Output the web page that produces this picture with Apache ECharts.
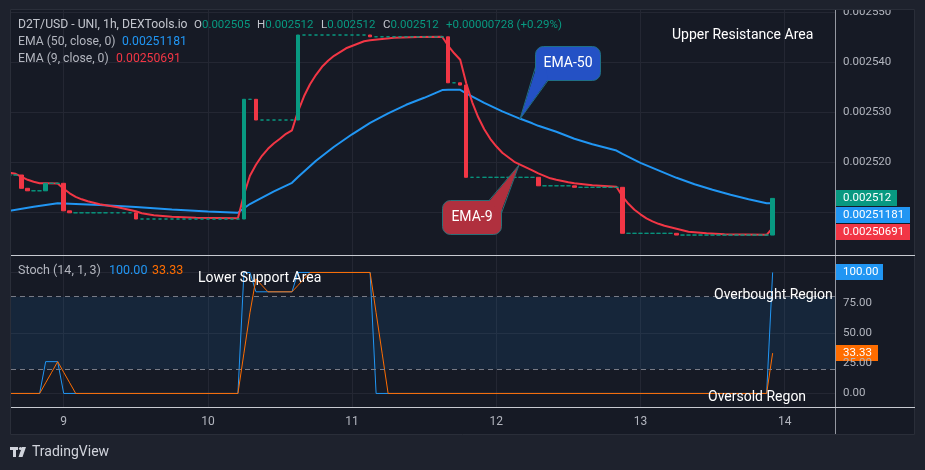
<!DOCTYPE html>
<html>
<head>
<meta charset="utf-8">
<script src="https://cdn.jsdelivr.net/npm/echarts@6/dist/echarts.min.js"></script>
<style>
  html, body { margin: 0; padding: 0; background: #1e222d; }
  #chart { width: 925px; height: 470px; }
</style>
</head>
<body>
<div id="chart"></div>
<script>
// hourly bars, hour 0 = day 9 00:00
const firstHour = -9;
const closes = [
  // day 8, 15:00 - 23:00
  0.00251746, 0.00251746, 0.0025148, 0.0025143, 0.0025143, 0.0025143, 0.0025158, 0.0025158, 0.0025158,
  // day 9
  0.0025103, 0.0025099, 0.0025099, 0.0025099, 0.0025099, 0.0025099, 0.0025099, 0.0025099, 0.0025099, 0.0025099, 0.0025099, 0.0025099,
  0.00250866, 0.00250866, 0.00250866, 0.00250866, 0.00250866, 0.00250866, 0.00250866, 0.00250866, 0.00250866, 0.00250866, 0.00250866, 0.00250866,
  // day 10
  0.00250866, 0.00250866, 0.00250866, 0.00250866, 0.00250866, 0.00250866, 0.0025326, 0.0025326, 0.00252846, 0.00252846, 0.00252846, 0.00252846,
  0.00252846, 0.00252846, 0.00252846, 0.00254546, 0.00254546, 0.00254546, 0.00254546, 0.00254546, 0.00254546, 0.00254546, 0.00254546, 0.00254546,
  // day 11
  0.00254546, 0.00254546, 0.00254546, 0.0025451, 0.0025451, 0.0025451, 0.0025451, 0.0025451, 0.0025451, 0.0025451, 0.0025451, 0.0025451,
  0.0025451, 0.0025451, 0.0025451, 0.0025451, 0.0025359, 0.0025359, 0.00253545, 0.002517, 0.002517, 0.002517, 0.002517, 0.002517,
  // day 12
  0.002517, 0.002517, 0.002517, 0.002517, 0.002517, 0.002517, 0.002517, 0.0025153, 0.0025153, 0.0025153, 0.0025153, 0.0025153,
  0.0025153, 0.002515, 0.002515, 0.002515, 0.002515, 0.002515, 0.002515, 0.002515, 0.002515, 0.0025058, 0.0025058, 0.0025058,
  // day 13
  0.0025058, 0.0025058, 0.0025058, 0.0025058, 0.0025058, 0.0025058, 0.00250545, 0.00250545, 0.00250545, 0.00250545, 0.00250545, 0.00250545,
  0.00250545, 0.00250545, 0.00250545, 0.00250545, 0.00250545, 0.00250545, 0.00250545, 0.00250545, 0.00250545, 0.00250545, 0.00251278
];
const ema50 = [
  [-9, 0.0025103], [-5, 0.0025111], [-1, 0.0025118], [0, 0.00251175], [6, 0.00251145], [12, 0.00251105],
  [18, 0.00251055], [24, 0.00251015], [29, 0.0025099], [30, 0.0025108], [31, 0.00251165], [32, 0.0025123],
  [35, 0.0025142], [38, 0.0025159], [39, 0.00251706], [42, 0.0025203], [45, 0.0025231], [48, 0.0025256],
  [51, 0.0025279], [54, 0.0025298], [57, 0.0025315], [60, 0.0025329], [63, 0.00253445], [64, 0.0025345],
  [66, 0.0025345], [67, 0.0025338], [70, 0.0025319], [73, 0.0025302], [76, 0.0025287], [78, 0.0025278],
  [79, 0.0025273], [82, 0.0025261], [85, 0.0025247], [88, 0.0025236], [92, 0.00252235], [93, 0.0025217],
  [96, 0.0025199], [99, 0.0025184], [102, 0.0025169], [105, 0.0025156], [108, 0.0025145], [111, 0.0025135],
  [114, 0.0025126], [117, 0.0025118], [118, 0.00251182]
];
const ema9 = [
  [-9, 0.0025179], [-8, 0.0025177], [-7, 0.0025171], [-6, 0.0025165], [-5, 0.0025161], [-4, 0.0025158],
  [-3, 0.0025158], [-1, 0.00251575], [0, 0.0025147], [1, 0.0025138], [2, 0.0025131], [3, 0.0025126],
  [4, 0.0025122], [6, 0.0025116], [9, 0.002511], [12, 0.0025102], [13, 0.0025098], [15, 0.0025094],
  [18, 0.0025091], [22, 0.0025089], [29, 0.0025088], [30, 0.0025135], [31, 0.0025173], [32, 0.0025195],
  [33, 0.0025213], [34, 0.0025227], [35, 0.0025238], [36, 0.0025247], [37, 0.0025257], [38, 0.0025264],
  [39, 0.0025302], [40, 0.0025332], [41, 0.0025356], [42, 0.0025375], [43, 0.0025391], [44, 0.0025403],
  [45, 0.0025413], [47, 0.0025428], [50, 0.0025442], [51, 0.0025444], [55, 0.0025449], [59, 0.00254505],
  [63, 0.0025451], [64, 0.0025433], [65, 0.0025418], [66, 0.0025405], [67, 0.0025358], [68, 0.002532],
  [69, 0.002529], [70, 0.0025266], [71, 0.0025247], [72, 0.0025232], [73, 0.0025219], [75, 0.0025201],
  [78, 0.0025184], [79, 0.0025178], [80, 0.0025173], [81, 0.0025168], [82, 0.0025165], [84, 0.002516],
  [85, 0.0025158], [88, 0.0025154], [92, 0.0025151], [93, 0.0025132], [94, 0.0025117], [95, 0.0025105],
  [96, 0.0025096], [97, 0.0025088], [98, 0.0025082], [99, 0.0025077], [100, 0.0025073], [102, 0.0025067],
  [104, 0.0025061], [107, 0.0025058], [110, 0.0025056], [117, 0.0025055], [118, 0.0025069]
];
const stochK = [
  [-9, 0], [-4, 0], [-3, 26.3], [-1, 26.3], [0, 0], [29, 0], [30, 100], [31, 100], [32, 84],
  [38, 84], [39, 100], [51, 100], [52, 0], [117, 0], [118, 100]
];
const stochD = [
  [-9, 0], [-4, 0], [-3, 8.8], [-2, 17.5], [-1, 26.3], [0, 17.5], [1, 8.8], [2, 0], [29, 0],
  [30, 33.3], [31, 66.7], [32, 94.7], [33, 89.3], [34, 84], [38, 84], [39, 89.3], [40, 94.7],
  [41, 100], [51, 100], [52, 66.7], [53, 33.3], [54, 0], [117, 0], [118, 33.33]
];
const dayTicks = [0, 24, 48, 72, 96, 120];
const dayLabels = ['9', '10', '11', '12', '13', '14'];
const priceLabels = [0.00252, 0.00253, 0.00254, 0.00255];
const priceGrid = [0.00251, 0.00252, 0.00253, 0.00254, 0.00255];
const stochLabels = [0, 25, 50, 75];
const stochGrid = [0, 50, 100];

const FONT = 'Roboto, "Noto Sans", sans-serif';
const GRID_LINE = '#242733';
const AXIS_TEXT = '#b2b5be';
const GREEN = '#089981';
const RED = '#f23645';
const BLUE = '#2196f3';
const ORANGE = '#ff6d00';
const LEGEND_SIZE = 12.2;
const OHLC_SIZE = 11.5;

const chart = echarts.init(document.getElementById('chart'));

const candles = closes.map((c, i) => {
  const o = i > 0 ? closes[i - 1] : c;
  return [firstHour + i, o, c, Math.min(o, c), Math.max(o, c)];
});
const lastClose = closes[closes.length - 1];

const xBase = {
  type: 'value', min: -8.77, max: 128.38,
  axisLine: { show: false },
  axisTick: { show: false, customValues: dayTicks },
  splitLine: { show: true, lineStyle: { color: GRID_LINE } }
};

function txt(x, y, text, fill, size, extra) {
  return Object.assign({
    type: 'text', x: x, y: y, z: 120,
    style: { text: text, fill: fill, fontSize: size, fontFamily: FONT, verticalAlign: 'middle' }
  }, extra || {});
}
function rich(x, y, parts, size) {
  // parts: [[text, colour], ...]
  const r = {};
  let s = '';
  parts.forEach((p, i) => {
    r['p' + i] = { fill: p[1], color: p[1], fontSize: size, fontFamily: FONT };
    s += '{p' + i + '|' + p[0] + '}';
  });
  return { type: 'text', x: x, y: y, z: 120, style: { text: s, rich: r, fontSize: size, fontFamily: FONT, verticalAlign: 'middle' } };
}
function tag(y, w, text, bg) {
  return {
    type: 'group', x: 835, y: Math.round(y) - 8, z: 130,
    children: [
      { type: 'rect', shape: { x: 0, y: 0, width: w, height: 16 }, style: { fill: bg } },
      { type: 'text', x: 8, y: 8.5, style: { text: text, fill: '#ffffff', fontSize: 11.5, fontFamily: FONT, verticalAlign: 'middle' } }
    ]
  };
}

const option = {
  backgroundColor: '#161a25',
  animation: false,
  grid: [
    { left: 11, right: 90, top: 10, height: 245 },
    { left: 11, right: 90, top: 256, height: 151 }
  ],
  xAxis: [
    Object.assign({}, xBase, { gridIndex: 0, axisLabel: { show: false } }),
    Object.assign({}, xBase, {
      gridIndex: 1,
      axisLabel: {
        show: true, customValues: dayTicks, margin: 9,
        formatter: v => dayLabels[dayTicks.indexOf(v)],
        color: AXIS_TEXT, fontSize: 12, fontFamily: FONT
      }
    })
  ],
  yAxis: [
    {
      type: 'value', gridIndex: 0, position: 'right', min: 0.00250146, max: 0.00255046,
      axisLine: { show: false },
      axisTick: { show: false, customValues: priceGrid },
      splitLine: { show: true, lineStyle: { color: GRID_LINE } },
      axisLabel: {
        customValues: priceLabels, margin: 8, formatter: v => v.toFixed(6),
        color: AXIS_TEXT, fontSize: 11.5, fontFamily: FONT
      }
    },
    {
      type: 'value', gridIndex: 1, position: 'right', min: -11.2, max: 113.6,
      axisLine: { show: false },
      axisTick: { show: false, customValues: stochGrid },
      splitLine: { show: true, lineStyle: { color: GRID_LINE } },
      axisLabel: {
        customValues: stochLabels, margin: 8, formatter: v => v.toFixed(2),
        color: AXIS_TEXT, fontSize: 11.5, fontFamily: FONT
      }
    }
  ],
  series: [
    {
      type: 'line', name: 'EMA50', xAxisIndex: 0, yAxisIndex: 0, data: ema50, silent: true,
      showSymbol: false, z: 2, lineStyle: { color: BLUE, width: 2 }
    },
    {
      type: 'line', name: 'EMA9', xAxisIndex: 0, yAxisIndex: 0, data: ema9, silent: true,
      showSymbol: false, z: 2, lineStyle: { color: RED, width: 2 }
    },
    {
      type: 'candlestick', xAxisIndex: 0, yAxisIndex: 0, data: candles, silent: true,
      encode: { x: 0, y: [1, 2, 3, 4] }, barWidth: 4, z: 3,
      itemStyle: { color: GREEN, color0: RED, borderColor: GREEN, borderColor0: RED, borderWidth: 1 },
      markLine: {
        silent: true, symbol: 'none', label: { show: false },
        lineStyle: { color: GREEN, type: 'dotted', width: 1 },
        data: [{ yAxis: lastClose }]
      }
    },
    {
      type: 'line', name: '%K', xAxisIndex: 1, yAxisIndex: 1, data: stochK, silent: true,
      showSymbol: false, z: 2, lineStyle: { color: BLUE, width: 1 },
      markArea: {
        silent: true, itemStyle: { color: 'rgba(33,150,243,0.1)' },
        data: [[{ yAxis: 20 }, { yAxis: 80 }]]
      },
      markLine: {
        silent: true, symbol: 'none', label: { show: false },
        lineStyle: { color: '#787b86', type: [5, 4], width: 1 },
        data: [{ yAxis: 80 }, { yAxis: 20 }]
      }
    },
    {
      type: 'line', name: '%D', xAxisIndex: 1, yAxisIndex: 1, data: stochD, silent: true,
      showSymbol: false, z: 3, lineStyle: { color: ORANGE, width: 1 }
    }
  ]
};
chart.setOption(option);

// price tags on the right scale, stacked like the original
const yClose = chart.convertToPixel({ yAxisIndex: 0 }, lastClose);
const yK = chart.convertToPixel({ yAxisIndex: 1 }, stochK[stochK.length - 1][1]);
const yD = chart.convertToPixel({ yAxisIndex: 1 }, stochD[stochD.length - 1][1]);

const frame = '#1e222d';
const graphic = [
  // outer frame
  { type: 'rect', z: 100, shape: { x: 0, y: 0, width: 925, height: 9 }, style: { fill: frame } },
  { type: 'rect', z: 100, shape: { x: 0, y: 0, width: 10, height: 470 }, style: { fill: frame } },
  { type: 'rect', z: 100, shape: { x: 915, y: 0, width: 10, height: 470 }, style: { fill: frame } },
  { type: 'rect', z: 100, shape: { x: 0, y: 435, width: 925, height: 35 }, style: { fill: frame } },
  { type: 'rect', z: 101, shape: { x: 10.5, y: 9.5, width: 904, height: 425 }, style: { fill: null, stroke: '#2a2e39', lineWidth: 1 } },
  // pane separators
  { type: 'line', z: 110, shape: { x1: 835.5, y1: 10, x2: 835.5, y2: 434 }, style: { stroke: '#9598a1', lineWidth: 1 } },
  { type: 'line', z: 110, shape: { x1: 11, y1: 255.5, x2: 915, y2: 255.5 }, style: { stroke: '#c7cad1', lineWidth: 1 } },
  { type: 'line', z: 110, shape: { x1: 11, y1: 407.5, x2: 915, y2: 407.5 }, style: { stroke: '#c7cad1', lineWidth: 1 } },

  // legends
  txt(18, 25, 'D2T/USD - UNI, 1h, DEXTools.io', '#c3c6ce', LEGEND_SIZE),
  rich(194, 25, [['O', '#c3c6ce'], ['0.002505', GREEN]], OHLC_SIZE),
  rich(257, 25, [['H', '#c3c6ce'], ['0.002512', GREEN]], OHLC_SIZE),
  rich(321, 25, [['L', '#c3c6ce'], ['0.002512', GREEN]], OHLC_SIZE),
  rich(383, 25, [['C', '#c3c6ce'], ['0.002512', GREEN]], OHLC_SIZE),
  txt(446, 25, '+0.00000728 (+0.29%)', GREEN, OHLC_SIZE),
  txt(18, 42, 'EMA (50, close, 0)', '#b2b5be', LEGEND_SIZE),
  txt(122, 42, '0.00251181', BLUE, LEGEND_SIZE),
  txt(18, 59, 'EMA (9, close, 0)', '#b2b5be', LEGEND_SIZE),
  txt(116, 59, '0.00250691', RED, LEGEND_SIZE),
  txt(18, 271, 'Stoch (14, 1, 3)', '#b2b5be', 12.5),
  txt(109, 271, '100.00', BLUE, 12.5),
  txt(152, 271, '33.33', ORANGE, 12.5),

  // annotations
  txt(672, 35, 'Upper Resistance Area', '#ffffff', 14),
  txt(198, 278, 'Lower Support Area', '#ffffff', 14),
  txt(714, 295, 'Overbought Region', '#ffffff', 14),
  txt(708, 397, 'Oversold Regon', '#ffffff', 14),

  // EMA-50 callout
  { type: 'rect', z: 121, shape: { x: 535.5, y: 46.5, width: 65, height: 34, r: 8 }, style: { fill: '#2451c5', stroke: '#1f6f86', lineWidth: 1 } },
  { type: 'polygon', z: 122, shape: { points: [[536.5, 67], [520, 119], [548, 79.5], [546, 70]] }, style: { fill: '#2451c5' } },
  { type: 'polyline', z: 122, shape: { points: [[535.5, 67], [520, 119], [548, 80.5]] }, style: { stroke: '#1f6f86', lineWidth: 1, fill: null } },
  txt(568, 63.5, 'EMA-50', '#ffffff', 14, { style: { text: 'EMA-50', fill: '#ffffff', fontSize: 14, fontFamily: FONT, align: 'center', verticalAlign: 'middle' }, z: 123 }),

  // EMA-9 callout
  { type: 'rect', z: 121, shape: { x: 442.5, y: 200.5, width: 59, height: 34, r: 8 }, style: { fill: '#b0303e', stroke: '#2b6f77', lineWidth: 1 } },
  { type: 'polygon', z: 122, shape: { points: [[489, 201.5], [519, 165], [500.5, 213], [494, 206]] }, style: { fill: '#b0303e' } },
  { type: 'polyline', z: 122, shape: { points: [[489, 200.5], [519, 165], [501.5, 213]] }, style: { stroke: '#2b6f77', lineWidth: 1, fill: null } },
  txt(472, 217.5, 'EMA-9', '#ffffff', 14, { style: { text: 'EMA-9', fill: '#ffffff', fontSize: 14, fontFamily: FONT, align: 'center', verticalAlign: 'middle' }, z: 123 }),

  // right scale tags
  tag(yClose, 62, '0.002512', GREEN),
  tag(yClose + 17, 75, '0.00251181', BLUE),
  tag(yClose + 34, 75, '0.00250691', RED),
  tag(yK, 48, '100.00', BLUE),
  tag(yD, 43, '33.33', ORANGE),

  // TradingView mark
  { type: 'rect', z: 120, shape: { x: 10, y: 447, width: 8, height: 3 }, style: { fill: '#d1d4dc' } },
  { type: 'rect', z: 120, shape: { x: 13, y: 447, width: 3, height: 10 }, style: { fill: '#d1d4dc' } },
  { type: 'circle', z: 120, shape: { cx: 20.5, cy: 448.5, r: 1.6 }, style: { fill: '#d1d4dc' } },
  { type: 'polygon', z: 120, shape: { points: [[22, 447], [26, 447], [22.5, 457], [18.5, 457]] }, style: { fill: '#d1d4dc' } },
  {
    type: 'text', x: 32, y: 452.5, z: 120,
    style: { text: 'TradingView', fill: '#d1d4dc', fontSize: 14, fontFamily: '"Liberation Sans Narrow", Roboto, sans-serif', verticalAlign: 'middle' }
  }
];
chart.setOption({ graphic: graphic });
</script>
</body>
</html>
